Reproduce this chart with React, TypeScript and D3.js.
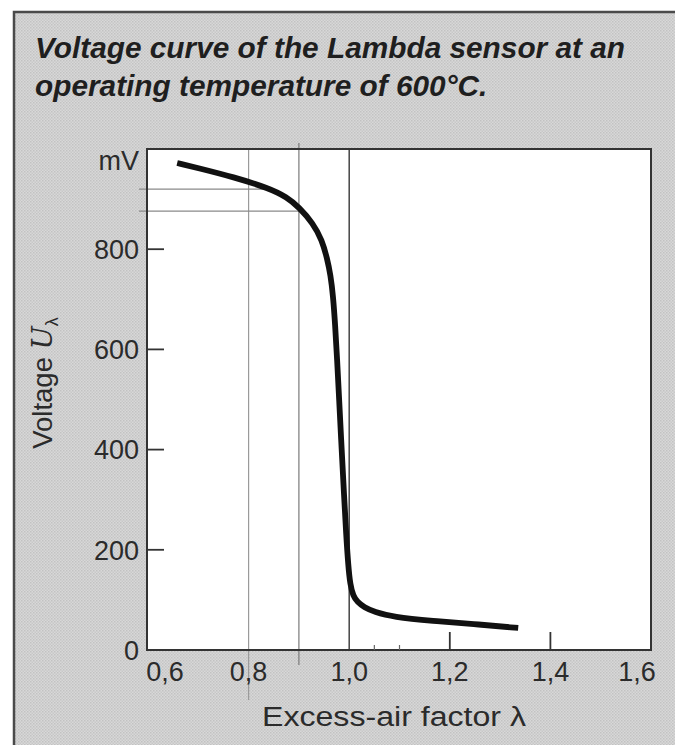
import React from "react";
import * as d3 from "d3";

const lambdaValues = [0.658, 0.70, 0.77, 0.84, 0.876, 0.90, 0.928, 0.946, 0.956, 0.963, 0.968, 0.972, 0.976, 0.980, 0.985, 0.990, 0.994, 0.998, 1.002, 1.008, 1.016, 1.030, 1.050, 1.087, 1.167, 1.246, 1.336];
const voltageValues = [972, 962, 944, 922, 904, 884, 852, 818, 782, 748, 706, 650, 580, 500, 400, 305, 230, 170, 130, 108, 96, 85, 76, 66, 58, 52, 44];
const xTickValues = [0.6, 0.8, 1.0, 1.2, 1.4, 1.6];
const xTickLabels = ["0,6", "0,8", "1,0", "1,2", "1,4", "1,6"];
const yTickValues = [0, 200, 400, 600, 800];
const majorXTicks = [1.2, 1.4];
const minorXTicks = [1.05, 1.1];
const refVoltages = [920, 876];
const refLambdaEnds = [0.845, 0.9];
const guideLambdas = [0.8, 0.9];

const W = 675;
const H = 745;
const left = 148, right = 651, top = 149, bottom = 650;

export default function App() {
  const x = d3.scaleLinear().domain([0.6, 1.6]).range([left, right]);
  const y = d3.scaleLinear().domain([0, 1000]).range([bottom, top]);
  const pts = lambdaValues.map((l, i) => [l, voltageValues[i]] as [number, number]);
  const line = d3
    .line<[number, number]>()
    .x((d) => x(d[0]))
    .y((d) => y(d[1]))
    .curve(d3.curveBasis);
  const font = "'Liberation Sans', Arial, Helvetica, sans-serif";
  const txt = "#2b2b2b";
  const labelDx = (i: number) => (i === 0 ? 17 : i === xTickValues.length - 1 ? -14 : 0);

  return (
    <svg width={W} height={H} style={{ position: "absolute", left: 0, top: 0 }} fontFamily={font}>
      <defs>
        <pattern id="halftone" width="3" height="3" patternUnits="userSpaceOnUse">
          <rect width="3" height="3" fill="#d8d8d8" />
          <rect x="0" y="0" width="1.5" height="1.5" fill="#c2c2c2" />
          <rect x="1.5" y="1.5" width="1.5" height="1.5" fill="#c8c8c8" />
        </pattern>
      </defs>
      <rect x={0} y={0} width={W} height={H} fill="#ffffff" />
      <rect x={14} y={12} width={W + 20} height={H + 20} fill="url(#halftone)" stroke="#4a4a4a" strokeWidth={2.5} />

      <text x={35} y={58} fontSize={29.8} fontWeight="bold" fontStyle="italic" fill="#1f1f1f">
        Voltage curve of the Lambda sensor at an
      </text>
      <text x={35} y={96} fontSize={29.8} fontWeight="bold" fontStyle="italic" fill="#1f1f1f">
        operating temperature of 600°C.
      </text>

      <rect x={left - 1} y={top} width={right - left + 1} height={bottom - top} fill="#ffffff" />

      {/* guide lines */}
      <line x1={x(guideLambdas[0])} x2={x(guideLambdas[0])} y1={top} y2={700} stroke="#9a9a9a" strokeWidth={1.2} />
      <line x1={x(guideLambdas[1])} x2={x(guideLambdas[1])} y1={143} y2={665} stroke="#7a7a7a" strokeWidth={1.2} />
      <line x1={x(1.0)} x2={x(1.0)} y1={top} y2={bottom} stroke="#444" strokeWidth={1.5} />
      {refVoltages.map((v, i) => (
        <line key={v} x1={139} x2={x(refLambdaEnds[i])} y1={y(v)} y2={y(v)} stroke="#8a8a8a" strokeWidth={1.2} />
      ))}

      {/* frame */}
      <rect x={left - 1} y={top} width={right - left + 1} height={bottom - top} fill="none" stroke="#333" strokeWidth={2} />

      {/* y ticks */}
      {yTickValues.filter((v) => v > 0).map((v) => (
        <line key={v} x1={left} x2={left + 16} y1={y(v)} y2={y(v)} stroke="#333" strokeWidth={1.8} />
      ))}
      {yTickValues.map((v) => (
        <text key={v} x={139} y={y(v)} dy="0.36em" textAnchor="end" fontSize={27} fill={txt}>
          {v}
        </text>
      ))}
      <text x={139} y={y(1000) + 11} dy="0.36em" textAnchor="end" fontSize={27} fill={txt}>
        mV
      </text>

      {/* x ticks */}
      {majorXTicks.map((v) => (
        <line key={v} x1={x(v)} x2={x(v)} y1={bottom} y2={bottom - 18} stroke="#333" strokeWidth={1.8} />
      ))}
      {minorXTicks.map((v) => (
        <line key={v} x1={x(v)} x2={x(v)} y1={bottom} y2={bottom - 5} stroke="#666" strokeWidth={1.2} />
      ))}
      {xTickValues.map((v, i) => (
        <text key={v} x={x(v) + labelDx(i)} y={681} textAnchor="middle" fontSize={27} fill={txt}>
          {xTickLabels[i]}
        </text>
      ))}

      {/* curve */}
      <path d={line(pts) || ""} fill="none" stroke="#111" strokeWidth={5.8} strokeLinecap="butt" strokeLinejoin="round" />

      {/* axis titles */}
      <text x={394} y={726} textAnchor="middle" fontSize={27} fill={txt} textLength={264} lengthAdjust="spacingAndGlyphs">
        Excess-air factor λ
      </text>
      <text transform="translate(52,383) rotate(-90)" textAnchor="middle" fontSize={27.5} fill={txt}>
        Voltage <tspan fontStyle="italic" fontFamily="'DejaVu Serif', serif">U</tspan>
        <tspan fontSize={18} dy={6}>λ</tspan>
      </text>
    </svg>
  );
}
